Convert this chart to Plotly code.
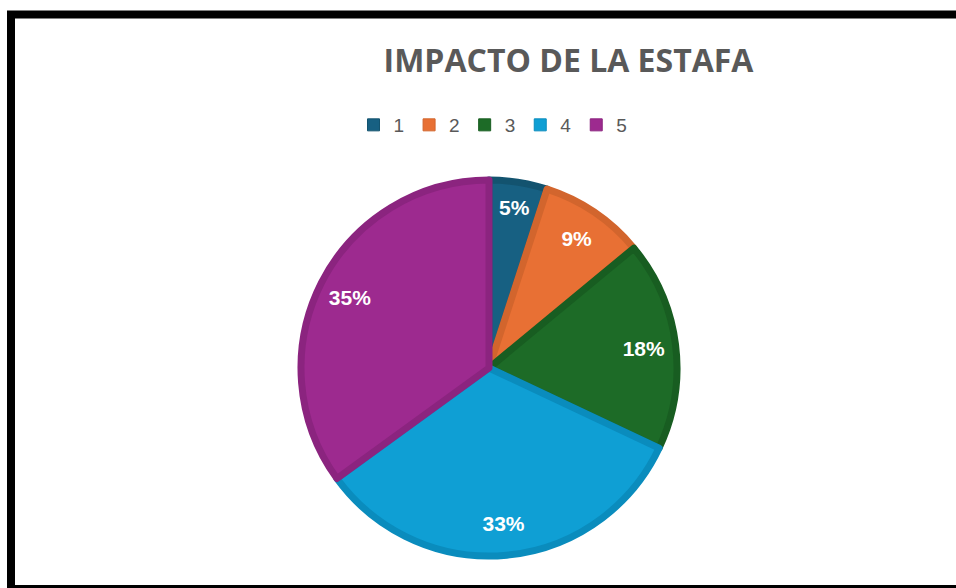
import plotly.graph_objects as go

labels = ["1", "2", "3", "4", "5"]
values = [5, 9, 18, 33, 35]
fill_colors = ["#176082", "#e87034", "#1d6b27", "#0f9fd4", "#9d2a8f"]
edge_colors = ["#13536f", "#d2652d", "#185d21", "#0a8cbd", "#8b247f"]
title_text = "IMPACTO DE LA ESTAFA"

W, H = 956, 588
cx, cy, R = 489, 368, 188
dom = dict(x=[(cx - R) / W, (cx + R) / W], y=[(H - cy - R) / H, (H - cy + R) / H])
tiny = dict(x=[(cx - 1) / W, (cx + 1) / W], y=[(H - cy - 1) / H, (H - cy + 1) / H])

common = dict(labels=labels, values=values, sort=False, direction="clockwise", rotation=0)

fig = go.Figure()
# legend proxy (hidden under the main pie)
fig.add_trace(go.Pie(
    **common,
    marker=dict(colors=fill_colors, line=dict(color=edge_colors, width=1)),
    textinfo="none", domain=tiny, hoverinfo="skip", showlegend=True,
))
# main pie with darker slice edges
fig.add_trace(go.Pie(
    **common,
    marker=dict(colors=fill_colors, line=dict(color=edge_colors, width=7)),
    textinfo="none", domain=dom, hoverinfo="label+percent", showlegend=False,
))
# percentage labels placed in the outer ring
fig.add_trace(go.Pie(
    **common,
    hole=0.66,
    marker=dict(colors=["rgba(0,0,0,0)"] * len(values), line=dict(width=0)),
    texttemplate="%{percent:.0%}",
    textposition="inside",
    insidetextorientation="horizontal",
    textfont=dict(family="Liberation Sans, Arial", size=21, color="white", weight="bold"),
    domain=dom, hoverinfo="skip", showlegend=False,
))

fig.update_layout(
    width=W, height=H,
    margin=dict(l=0, r=0, t=0, b=0),
    paper_bgcolor="white",
    plot_bgcolor="white",
    title=dict(
        text=title_text,
        x=568.5 / W, xanchor="center",
        y=1 - 61 / H, yanchor="middle", yref="container",
        font=dict(family="Open Sans, Arial", size=32, color="#595959", weight="bold"),
    ),
    legend=dict(
        orientation="h",
        x=493 / W, xanchor="center",
        y=1 - 125 / H, yanchor="middle",
        font=dict(family="Liberation Sans, Arial", size=19, color="#595959"),
        itemwidth=30,
        traceorder="normal",
    ),
    shapes=[dict(
        type="rect", xref="paper", yref="paper",
        x0=11 / W, x1=1.05, y0=(H - 589) / H, y1=(H - 14.5) / H,
        line=dict(color="black", width=8), fillcolor="rgba(0,0,0,0)",
        layer="above",
    )],
)

fig.write_html(
    "out.html",
    config={"displayModeBar": False},
    post_script="document.body.style.margin='0';document.body.style.overflow='hidden';",
)
